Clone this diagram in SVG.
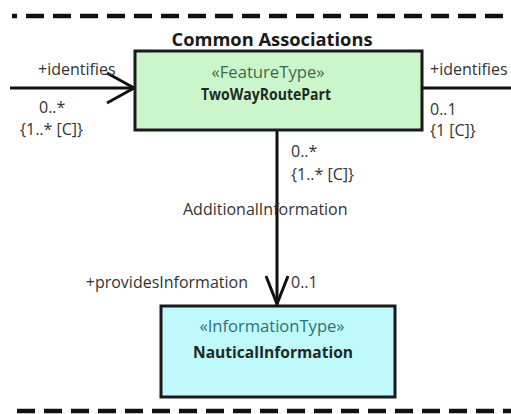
<svg xmlns="http://www.w3.org/2000/svg" width="511" height="414" viewBox="0 0 511 414">
<style>
.lbl{font-family:"Open Sans","Noto Sans",sans-serif;font-size:16px;fill:#333}
.st{font-family:"Open Sans","Noto Sans",sans-serif;font-size:16px;text-anchor:middle}
.nm{font-family:"Open Sans","Noto Sans",sans-serif;font-size:16px;font-weight:bold;text-anchor:middle;fill:#1e2a24}
.box{stroke:#1a1a1a;stroke-width:3}
.ln{stroke:#111;stroke-width:3;fill:none}
.dash{stroke:#111;stroke-width:4.5;stroke-dasharray:18 9}
</style>
<line class="dash" x1="12" y1="16" x2="511" y2="16" stroke-dashoffset="13"/>
<line class="dash" x1="17" y1="411" x2="511" y2="411"/>
<text x="272" y="46" font-family="Open Sans, Noto Sans, sans-serif" font-size="17" font-weight="bold" fill="#1a1a1a" text-anchor="middle" textLength="201" lengthAdjust="spacingAndGlyphs">Common Associations</text>
<g id="connectors">
<line class="ln" x1="10" y1="88" x2="135" y2="88"/>
<polyline class="ln" points="107,73 134,88 107,103"/>
<line class="ln" x1="422" y1="88" x2="511" y2="88"/>
<line class="ln" x1="277" y1="130" x2="277" y2="305"/>
<polyline class="ln" points="266,276 277,304 288,276"/>
<text class="lbl" x="38" y="75">+identifies</text>
<text class="lbl" x="39" y="113">0..*</text>
<text class="lbl" x="20" y="135">{1..* [C]}</text>
<text class="lbl" x="430" y="75">+identifies</text>
<text class="lbl" x="430" y="115">0..1</text>
<text class="lbl" x="430" y="136">{1 [C]}</text>
<text class="lbl" x="291" y="157">0..*</text>
<text class="lbl" x="291" y="180">{1..* [C]}</text>
<text class="lbl" x="183" y="215">AdditionalInformation</text>
<text class="lbl" x="248" y="288" text-anchor="end">+providesInformation</text>
<text class="lbl" x="291" y="288">0..1</text>
</g>
<g id="TwoWayRoutePart">
<rect class="box" x="135" y="51" width="287" height="79" fill="#cbf5cb"/>
<text class="st" x="268" y="78" fill="#3d6b4a" textLength="113" lengthAdjust="spacingAndGlyphs">«FeatureType»</text>
<text class="nm" x="266" y="100" textLength="130" lengthAdjust="spacingAndGlyphs">TwoWayRoutePart</text>
</g>
<g id="NauticalInformation">
<rect class="box" x="161" y="306" width="234" height="91" fill="#c0f9fc"/>
<text class="st" x="272" y="332" fill="#2f6f78" textLength="145" lengthAdjust="spacingAndGlyphs">«InformationType»</text>
<text class="nm" x="273" y="358" textLength="160" lengthAdjust="spacingAndGlyphs">NauticalInformation</text>
</g>
</svg>
